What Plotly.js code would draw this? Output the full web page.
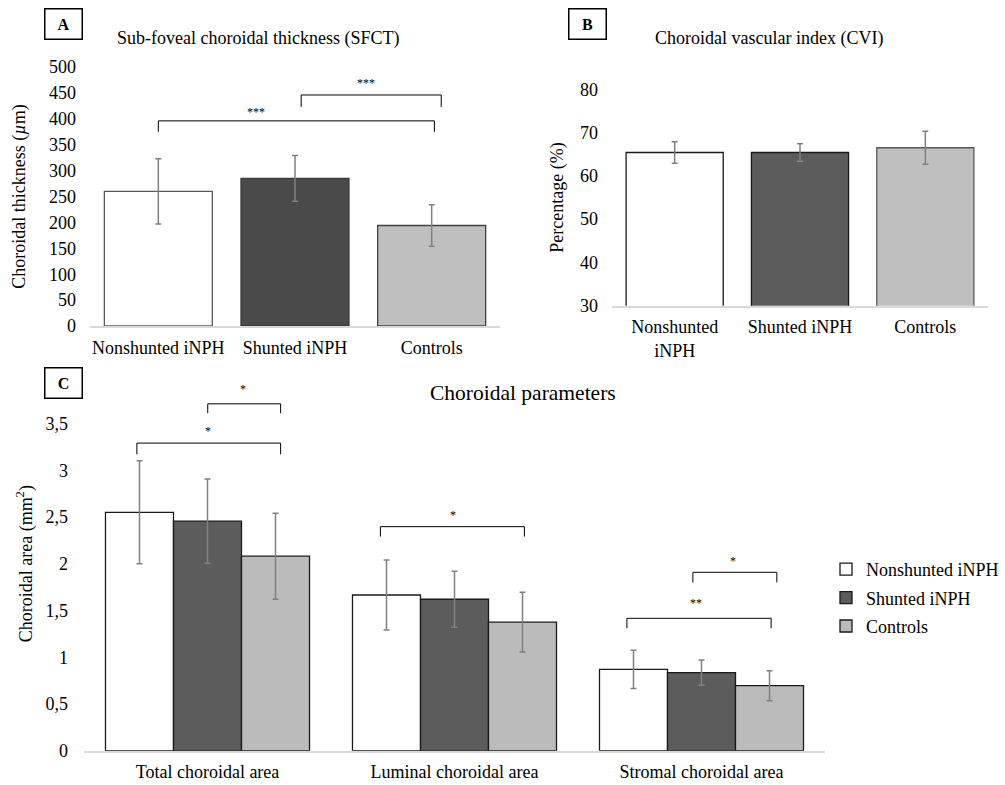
<!DOCTYPE html>
<html>
<head>
<meta charset="utf-8">
<script src="https://cdn.plot.ly/plotly-3.0.1.min.js"></script>
<style>html,body{margin:0;padding:0;background:#fff;}#chart{width:1005px;height:785px;}</style>
</head>
<body>
<div id="chart"></div>
<script>
// ---------- DATA ----------
const groups = ['Nonshunted iNPH', 'Shunted iNPH', 'Controls'];
const groupsB = ['Nonshunted<br>iNPH', 'Shunted iNPH', 'Controls'];

// Panel A: SFCT (µm)
const sfctMean = [260, 285, 194];
const sfctSD   = [63, 44, 40];
const sfctTicks = [0, 50, 100, 150, 200, 250, 300, 350, 400, 450, 500];

// Panel B: CVI (%)
const cviMean = [65.4, 65.4, 66.5];
const cviSD   = [2.5, 2.0, 3.8];
const cviTicks = [30, 40, 50, 60, 70, 80];

// Panel C: choroidal areas (mm²)
const areaCats = ['Total choroidal area', 'Luminal choroidal area', 'Stromal choroidal area'];
const areaNonshunted   = [2.55, 1.665, 0.87];
const areaNonshuntedSD = [0.55, 0.375, 0.205];
const areaShunted      = [2.455, 1.62, 0.835];
const areaShuntedSD    = [0.45, 0.30, 0.135];
const areaControls     = [2.08, 1.375, 0.695];
const areaControlsSD   = [0.46, 0.32, 0.16];
const areaTickVals   = [0, 0.5, 1, 1.5, 2, 2.5, 3, 3.5];
const areaTickLabels = ['0', '0,5', '1', '1,5', '2', '2,5', '3', '3,5'];

// Significance brackets: [from, to, level, legEnd, label, labelX, labelY]
const sigA = [
  [0.0, 2.02, 396, 375, '***', 0.713, 413],
  [1.045, 2.07, 446, 423, '***', 1.523, 469]
];
const sigC = [
  [-0.286, 0.296, 3.29, 3.17, '*', 0.0, 3.42],
  [0.001, 0.296, 3.71, 3.61, '*', 0.142, 3.865],
  [0.70, 1.283, 2.396, 2.29, '*', 0.992, 2.52],
  [1.698, 2.282, 1.416, 1.309, '**', 1.976, 1.583],
  [1.965, 2.305, 1.908, 1.80, '*', 2.127, 2.03]
];

// ---------- HELPERS ----------
const W = 1005, H = 785;
const px = p => p / W;
const py = p => 1 - p / H;
const FONT = 'Liberation Serif';
const errStyle = {type: 'data', color: '#808080', thickness: 1.5, width: 3};

// ---------- TRACES ----------
const traces = [
  {
    type: 'bar', x: groups, y: sfctMean, xaxis: 'x', yaxis: 'y', width: 0.79,
    marker: {color: ['#ffffff', '#4a4a4a', '#bfbfbf'], line: {color: ['#595959', '#3a3a3a', '#404040'], width: 1.3}},
    error_y: Object.assign({array: sfctSD}, errStyle), showlegend: false, hoverinfo: 'none'
  },
  {
    type: 'bar', x: groupsB, y: cviMean, xaxis: 'x2', yaxis: 'y2', width: 0.775,
    marker: {color: ['#ffffff', '#5c5c5c', '#bfbfbf'], line: {color: ['#1a1a1a', '#1a1a1a', '#595959'], width: 1.3}},
    error_y: Object.assign({array: cviSD}, errStyle), showlegend: false, hoverinfo: 'none'
  },
  {
    type: 'bar', name: 'Nonshunted iNPH', legendgroup: 'g1', x: areaCats, y: areaNonshunted, xaxis: 'x3', yaxis: 'y3',
    marker: {color: '#ffffff', line: {color: '#1a1a1a', width: 1.3}},
    error_y: Object.assign({array: areaNonshuntedSD}, errStyle), hoverinfo: 'none'
  },
  {
    type: 'bar', name: 'Shunted iNPH', legendgroup: 'g2', x: areaCats, y: areaShunted, xaxis: 'x3', yaxis: 'y3',
    marker: {color: '#5c5c5c', line: {color: '#1a1a1a', width: 1.3}},
    error_y: Object.assign({array: areaShuntedSD}, errStyle), hoverinfo: 'none'
  },
  {
    type: 'bar', name: 'Controls', legendgroup: 'g3', x: areaCats, y: areaControls, xaxis: 'x3', yaxis: 'y3',
    marker: {color: '#bbbbbb', line: {color: '#1a1a1a', width: 1.3}},
    error_y: Object.assign({array: areaControlsSD}, errStyle), hoverinfo: 'none'
  }
];

// ---------- SHAPES / ANNOTATIONS ----------
const shapes = [];
const annotations = [];
function addBrackets(list, xr, yr) {
  list.forEach(b => {
    const [x0, x1, lvl, leg, lab, lx, ly] = b;
    const ln = {color: '#000000', width: 1};
    shapes.push({type: 'line', xref: xr, yref: yr, x0: x0, x1: x0, y0: leg, y1: lvl, line: ln});
    shapes.push({type: 'line', xref: xr, yref: yr, x0: x0, x1: x1, y0: lvl, y1: lvl, line: ln});
    shapes.push({type: 'line', xref: xr, yref: yr, x0: x1, x1: x1, y0: lvl, y1: leg, line: ln});
    annotations.push({xref: xr, yref: yr, x: lx, y: ly, text: lab, showarrow: false,
      font: {family: FONT, size: 12, color: '#000'}, xanchor: 'center', yanchor: 'middle'});
  });
}
addBrackets(sigA, 'x', 'y');
addBrackets(sigC, 'x3', 'y3');

function panelLabel(t, cx, cy) {
  annotations.push({xref: 'paper', yref: 'paper', x: px(cx), y: py(cy), text: '<b>' + t + '</b>',
    showarrow: false, font: {family: FONT, size: 16, color: '#000'},
    bordercolor: '#000', borderwidth: 1.5, borderpad: 0, width: 36, height: 29,
    bgcolor: '#fff', xanchor: 'center', yanchor: 'middle'});
}
panelLabel('A', 64, 24.5);
panelLabel('B', 587.5, 24.5);
panelLabel('C', 64, 383);

function titleText(t, cx, cy, fs) {
  annotations.push({xref: 'paper', yref: 'paper', x: px(cx), y: py(cy), text: t, showarrow: false,
    font: {family: FONT, size: fs, color: '#000'}, xanchor: 'center', yanchor: 'middle'});
}
titleText('Sub-foveal choroidal thickness (SFCT)', 258, 39, 18);
titleText('Choroidal vascular index (CVI)', 769, 39, 18);
titleText('Choroidal parameters', 522.5, 393, 21.5);

// ---------- LAYOUT ----------
const tickFont = {family: FONT, size: 18, color: '#000'};
const titleFont = {family: FONT, size: 18, color: '#000'};
const xCommon = {type: 'category', showline: true, linecolor: '#d9d9d9', linewidth: 2,
  showgrid: false, zeroline: false, ticks: '', tickfont: tickFont, fixedrange: true, ticklabelstandoff: 4};
const yCommon = {showline: false, showgrid: false, zeroline: false, ticks: '', tickfont: tickFont, fixedrange: true};

const layout = {
  width: W, height: H,
  margin: {l: 0, r: 0, t: 0, b: 0},
  paper_bgcolor: '#ffffff', plot_bgcolor: 'rgba(0,0,0,0)',
  font: {family: FONT, color: '#000'},
  separators: ', ',
  barmode: 'group', bargap: 0.174, bargroupgap: 0,
  xaxis: Object.assign({}, xCommon, {domain: [px(90), px(500)], anchor: 'y', range: [-0.5, 2.5]}),
  yaxis: Object.assign({}, yCommon, {domain: [py(326), py(67)], anchor: 'x', range: [0, 500],
    tickmode: 'array', tickvals: sfctTicks, ticklabelstandoff: 13,
    title: {text: 'Choroidal thickness (<i>µ</i>m)', font: titleFont, standoff: 18}}),
  xaxis2: Object.assign({}, xCommon, {domain: [px(612), px(988)], anchor: 'y2', range: [-0.5, 2.5]}),
  yaxis2: Object.assign({}, yCommon, {domain: [py(305.7), py(89.3)], anchor: 'x2', range: [30, 80],
    tickmode: 'array', tickvals: cviTicks, ticklabelstandoff: 13,
    title: {text: 'Percentage (%)', font: titleFont, standoff: 11}}),
  xaxis3: Object.assign({}, xCommon, {domain: [px(84), px(825)], anchor: 'y3', range: [-0.5, 2.5]}),
  yaxis3: Object.assign({}, yCommon, {domain: [py(750.7), py(376.7)], anchor: 'x3', range: [0, 4.0],
    tickmode: 'array', tickvals: areaTickVals, ticktext: areaTickLabels, ticklabelstandoff: 15,
    title: {text: 'Choroidal area (mm<sup>2</sup>)', font: titleFont, standoff: 8}}),
  showlegend: true,
  legend: {x: px(826), y: py(551), xanchor: 'left', yanchor: 'top', font: {family: FONT, size: 18, color: '#000'},
    bgcolor: 'rgba(0,0,0,0)', traceorder: 'grouped', tracegroupgap: 2, itemclick: false, itemdoubleclick: false},
  shapes: shapes,
  annotations: annotations
};

Plotly.newPlot('chart', traces, layout, {displayModeBar: false, staticPlot: true});
</script>
</body>
</html>
